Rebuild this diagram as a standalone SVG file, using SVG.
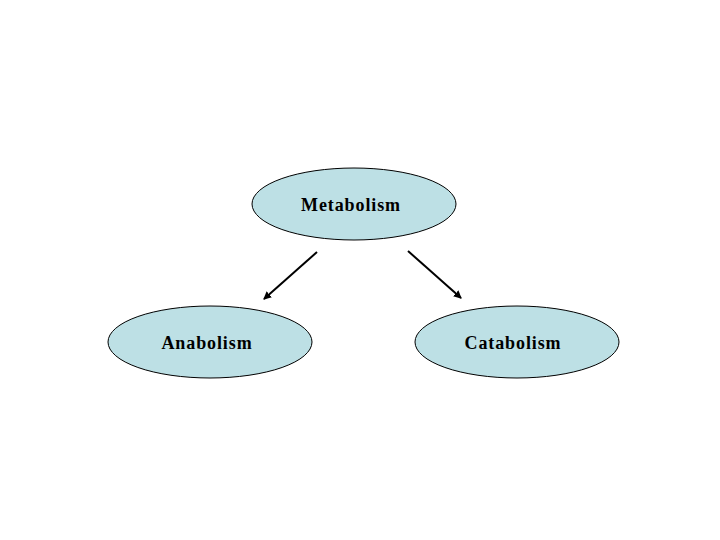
<svg xmlns="http://www.w3.org/2000/svg" width="720" height="540" viewBox="0 0 720 540">
<style>
.node ellipse{fill:#bde0e5;stroke:#000;stroke-width:1}
.node text{font-family:"Liberation Serif",serif;font-weight:bold;font-size:18px;letter-spacing:0.9px;fill:#000;text-anchor:middle}
.edge{stroke:#000;stroke-width:2;fill:none;marker-end:url(#ah)}
</style>
<defs>
<marker id="ah" markerWidth="8" markerHeight="8" refX="7" refY="4" orient="auto" markerUnits="userSpaceOnUse">
<path d="M0,0 L8,4 L0,8 Z" fill="#000"/>
</marker>
</defs>
<rect width="720" height="540" fill="#fff"/>
<g id="metabolism" class="node">
<ellipse cx="354" cy="204" rx="102" ry="36"/>
<text x="351" y="211">Metabolism</text>
</g>
<g id="anabolism" class="node">
<ellipse cx="210" cy="342" rx="102" ry="36"/>
<text x="207" y="349">Anabolism</text>
</g>
<g id="catabolism" class="node">
<ellipse cx="517" cy="342" rx="102" ry="36"/>
<text x="513" y="349">Catabolism</text>
</g>
<g id="connectors">
<line class="edge" x1="317" y1="252" x2="264" y2="299"/>
<line class="edge" x1="408" y1="251" x2="461" y2="298"/>
</g>
</svg>
